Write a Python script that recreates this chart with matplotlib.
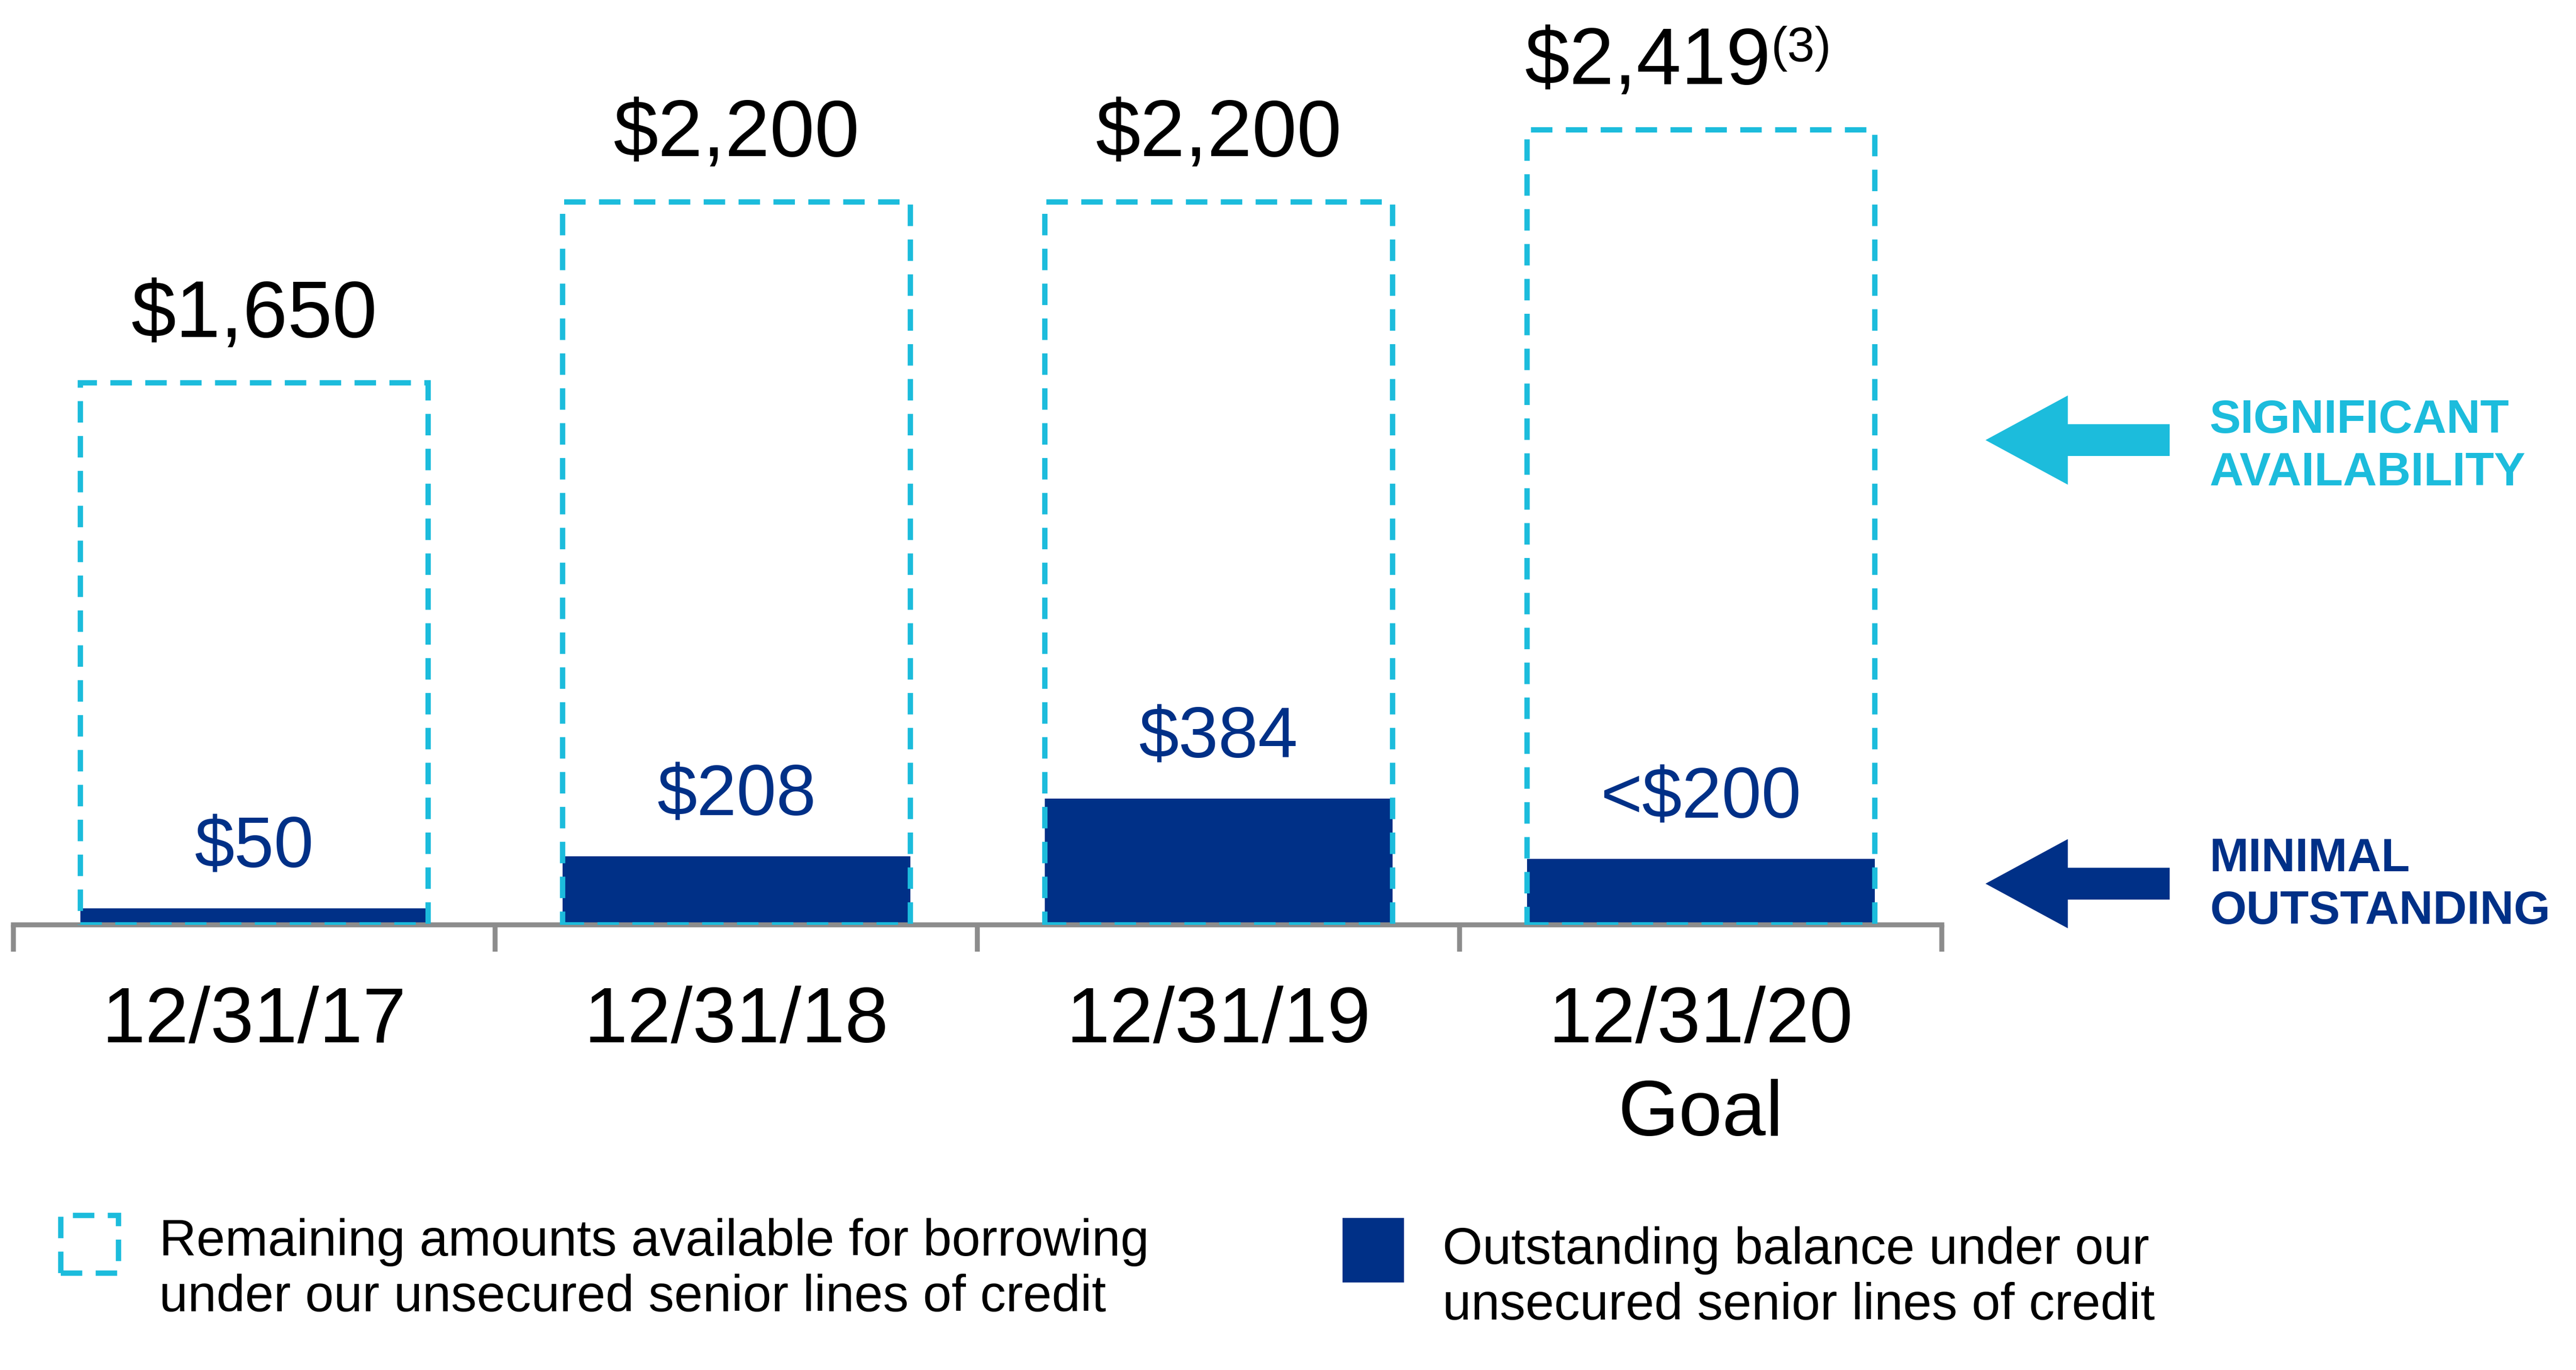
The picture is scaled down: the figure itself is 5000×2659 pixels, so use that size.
import matplotlib
matplotlib.use("Agg")
import matplotlib.pyplot as plt
from matplotlib.patches import Rectangle, FancyArrow

categories = ["12/31/17", "12/31/18", "12/31/19", "12/31/20\nGoal"]
totals = [1650, 2200, 2200, 2419]
outstanding = [50, 208, 384, 200]
total_labels = ["$1,650", "$2,200", "$2,200", "$2,419"]
total_notes = ["", "", "", "(3)"]
out_labels = ["$50", "$208", "$384", "<$200"]

CYAN = "#1CBCDC"
NAVY = "#003087"
GRAY = "#8C8C8C"
W, H = 1568, 834
plt.rcParams['font.family'] = ['Liberation Sans', 'DejaVu Sans']
plt.rcParams['text.parse_math'] = False
fig = plt.figure(figsize=(16, 16 * H / W), dpi=5000 / 16)

ax = fig.add_axes([8 / W, (H - 563) / H, (1182 - 8) / W, 540 / H])
ax.set_xlim(-0.5, 3.5)
ax.set_ylim(0, 2700)
bw = 212 / 294
DASH = (0, (4, 2.5))
for i, (t, o) in enumerate(zip(totals, outstanding)):
    ax.bar(i, o, width=bw, color=NAVY, zorder=2)
    ax.add_patch(Rectangle((i - bw / 2, 0), bw, t, fill=False, edgecolor=CYAN,
                           lw=2.4, ls=DASH, zorder=3))
    xoff = -0.11 if total_notes[i] else 0
    txt = ax.text(i + xoff, t + 90, total_labels[i], ha="center", va="bottom",
                  fontsize=36, color="black")
    if total_notes[i]:
        ax.annotate(total_notes[i], xy=(1.0, 1.0), xycoords=txt, ha="left", va="top",
                    fontsize=22, color="black")
    ax.text(i, o + 80, out_labels[i], ha="center", va="bottom", fontsize=32, color=NAVY)

for s in ["top", "right", "left"]:
    ax.spines[s].set_visible(False)
ax.spines["bottom"].set_color(GRAY)
ax.spines["bottom"].set_linewidth(2.2)
ax.set_yticks([])
ax.set_xticks([-0.5, 0.5, 1.5, 2.5, 3.5])
ax.set_xticklabels([])
ax.tick_params(axis="x", length=12, width=2.2, color=GRAY, direction="out")
for i, c in enumerate(categories):
    ax.text(i, -185, c, ha="center", va="top", fontsize=35, linespacing=1.35)

def arrow(y, color):
    fig.patches.append(FancyArrow(1320 / W, (H - y) / H, -110 / W, 0, width=18 / H,
                                  head_width=52 / H, head_length=48 / W,
                                  length_includes_head=True, color=color,
                                  transform=fig.transFigure, figure=fig))
arrow(268, CYAN)
arrow(538, NAVY)
fig.text(1345 / W, (H - 272) / H, "SIGNIFICANT\nAVAILABILITY", color=CYAN, fontsize=21,
         fontweight="bold", va="center", ha="left", linespacing=1.25)
fig.text(1345 / W, (H - 539) / H, "MINIMAL\nOUTSTANDING", color=NAVY, fontsize=21,
         fontweight="bold", va="center", ha="left", linespacing=1.25)

fig.patches.append(Rectangle((37 / W, (H - 775) / H), 35 / W, 35 / H, fill=False,
                             edgecolor=CYAN, lw=2.4, ls=DASH,
                             transform=fig.transFigure, figure=fig))
fig.text(97 / W, (H - 773) / H, "Remaining amounts available for borrowing\nunder our unsecured senior lines of credit",
         fontsize=23, va="center", ha="left", linespacing=1.2)
fig.patches.append(Rectangle((818 / W, (H - 780) / H), 36 / W, 38 / H, color=NAVY,
                             transform=fig.transFigure, figure=fig))
fig.text(878 / W, (H - 778) / H, "Outstanding balance under our\nunsecured senior lines of credit",
         fontsize=23, va="center", ha="left", linespacing=1.2)

fig.savefig("out.png", dpi=5000 / 16)
